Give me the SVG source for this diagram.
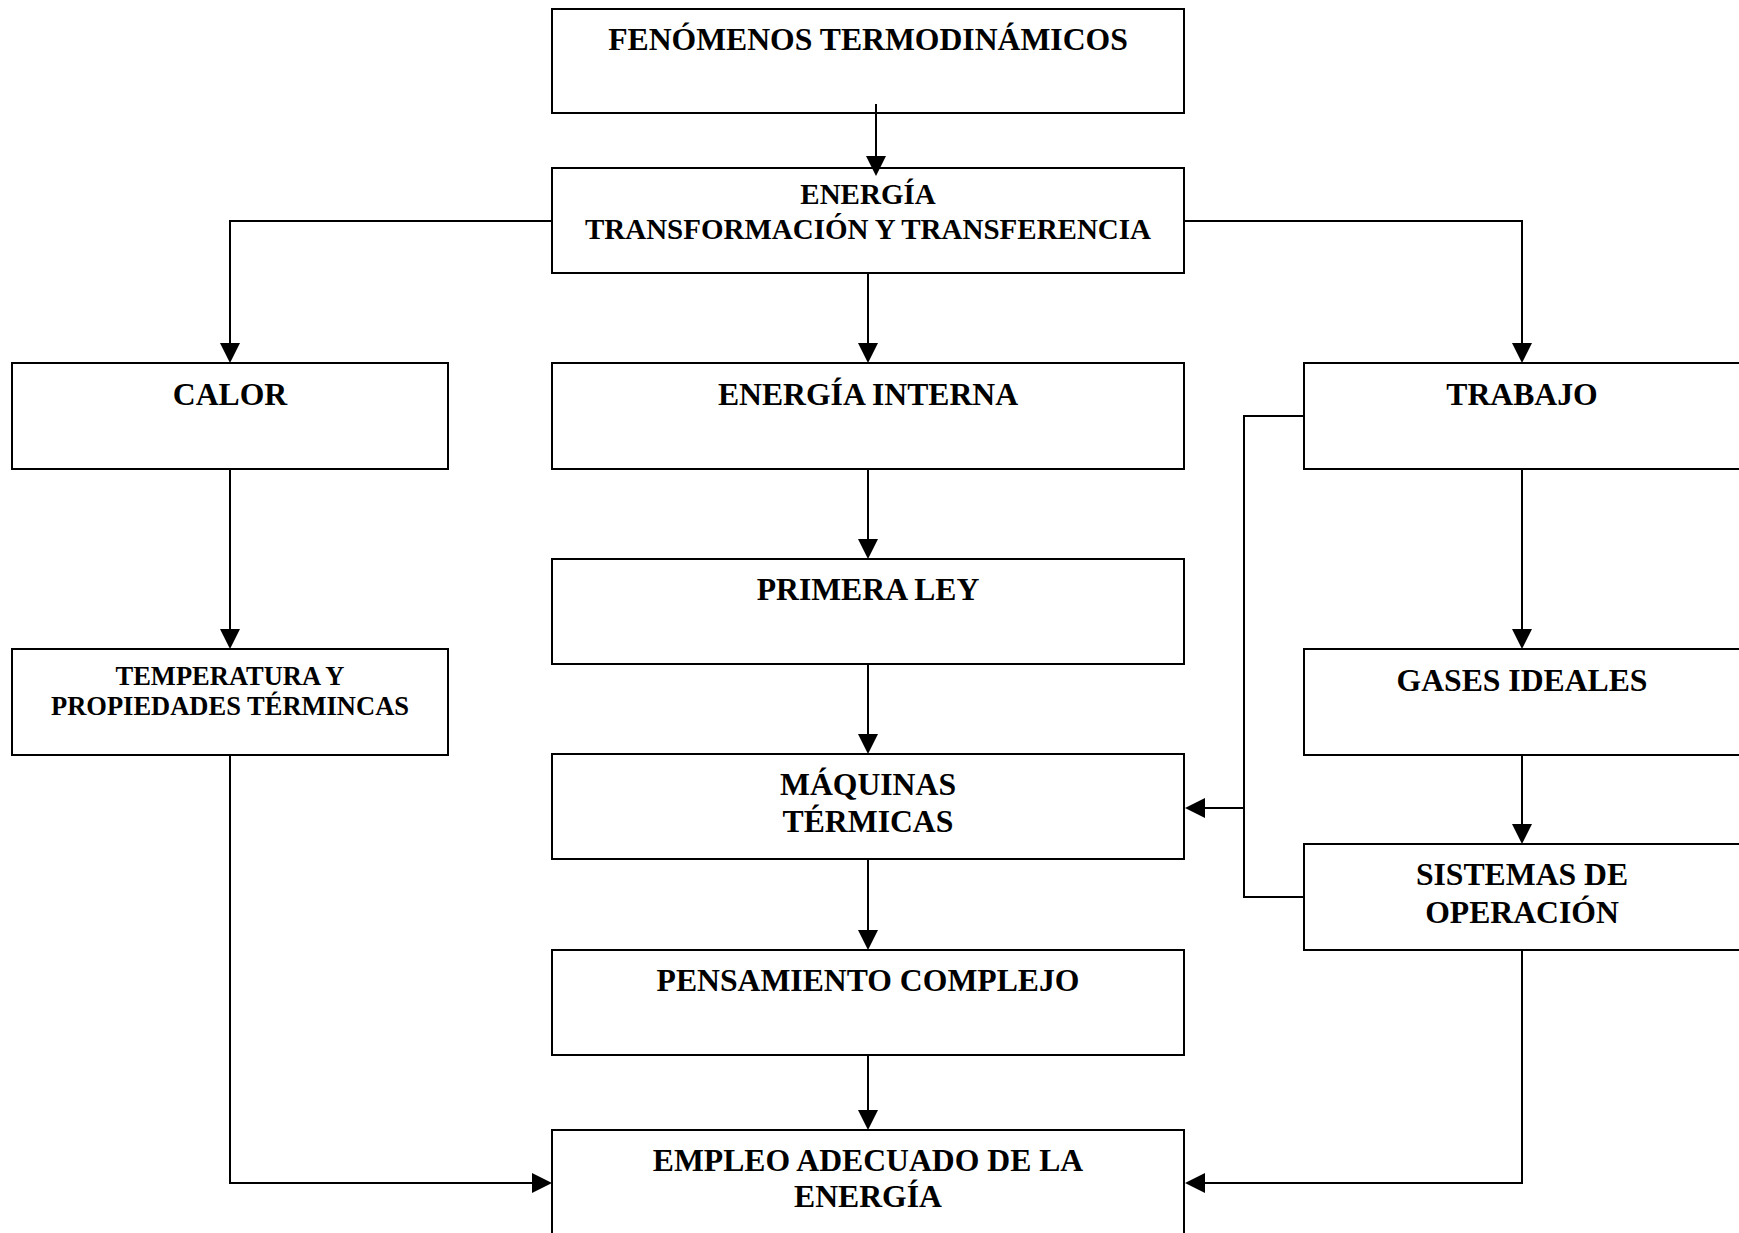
<svg xmlns="http://www.w3.org/2000/svg" width="1739" height="1233" viewBox="0 0 1739 1233">
<style>
.box{fill:#fff;stroke:#000;stroke-width:2}
.t{font-family:"Liberation Serif","Times New Roman",serif;font-weight:bold;font-size:31.7px;text-anchor:middle;fill:#000}
.s29{font-size:29px}
.s26{font-size:26.5px}
.c{fill:none;stroke:#000;stroke-width:2}
</style>
<defs>
<marker id="ah" markerUnits="userSpaceOnUse" markerWidth="20" markerHeight="20" refX="0" refY="10" orient="auto" viewBox="0 0 20 20">
<path d="M0,0 L20,10 L0,20 z" fill="#000"/>
</marker>
</defs>
<rect width="1739" height="1233" fill="#fff"/>
<g id="n-fenomenos"><rect class="box" x="552" y="9" width="632" height="104"/><text class="t" x="868" y="50">FENÓMENOS TERMODINÁMICOS</text></g>
<g id="n-energia"><rect class="box" x="552" y="168" width="632" height="105"/><text class="t s29" x="868" y="204">ENERGÍA</text><text class="t s29" x="868" y="238.5">TRANSFORMACIÓN Y TRANSFERENCIA</text></g>
<g id="n-calor"><rect class="box" x="12" y="363" width="436" height="106"/><text class="t" x="230" y="405">CALOR</text></g>
<g id="n-energia-interna"><rect class="box" x="552" y="363" width="632" height="106"/><text class="t" x="868" y="405">ENERGÍA INTERNA</text></g>
<g id="n-trabajo"><rect class="box" x="1304" y="363" width="436" height="106"/><text class="t" x="1522" y="405">TRABAJO</text></g>
<g id="n-temperatura"><rect class="box" x="12" y="649" width="436" height="106"/><text class="t s26" x="230" y="685">TEMPERATURA Y</text><text class="t s26" x="230" y="715">PROPIEDADES TÉRMINCAS</text></g>
<g id="n-primera-ley"><rect class="box" x="552" y="559" width="632" height="105"/><text class="t" x="868" y="599.5">PRIMERA LEY</text></g>
<g id="n-gases"><rect class="box" x="1304" y="649" width="436" height="106"/><text class="t" x="1522" y="690.7">GASES IDEALES</text></g>
<g id="n-maquinas"><rect class="box" x="552" y="754" width="632" height="105"/><text class="t" x="868" y="794.6">MÁQUINAS</text><text class="t" x="868" y="831.7">TÉRMICAS</text></g>
<g id="n-sistemas"><rect class="box" x="1304" y="844" width="436" height="106"/><text class="t" x="1522" y="885">SISTEMAS DE</text><text class="t" x="1522" y="922.7">OPERACIÓN</text></g>
<g id="n-pensamiento"><rect class="box" x="552" y="950" width="632" height="105"/><text class="t" x="868" y="990.7">PENSAMIENTO COMPLEJO</text></g>
<g id="n-empleo"><rect class="box" x="552" y="1130" width="632" height="112"/><text class="t" x="868" y="1170.7">EMPLEO ADECUADO DE LA</text><text class="t" x="868" y="1207.3">ENERGÍA</text></g>
<g id="connectors">
<path class="c" d="M876,104 V156" marker-end="url(#ah)"/>
<path class="c" d="M552,221 H230 V343" marker-end="url(#ah)"/>
<path class="c" d="M1184,221 H1522 V343" marker-end="url(#ah)"/>
<path class="c" d="M868,273 V343" marker-end="url(#ah)"/>
<path class="c" d="M868,469 V539" marker-end="url(#ah)"/>
<path class="c" d="M868,664 V734" marker-end="url(#ah)"/>
<path class="c" d="M868,859 V930" marker-end="url(#ah)"/>
<path class="c" d="M868,1055 V1110" marker-end="url(#ah)"/>
<path class="c" d="M230,469 V629" marker-end="url(#ah)"/>
<path class="c" d="M230,755 V1183 H532" marker-end="url(#ah)"/>
<path class="c" d="M1522,469 V629" marker-end="url(#ah)"/>
<path class="c" d="M1522,755 V824" marker-end="url(#ah)"/>
<path class="c" d="M1522,950 V1183 H1205" marker-end="url(#ah)"/>
<path class="c" d="M1304,416 H1244 V897 H1304"/>
<path class="c" d="M1244,808 H1205" marker-end="url(#ah)"/>
</g>
</svg>
